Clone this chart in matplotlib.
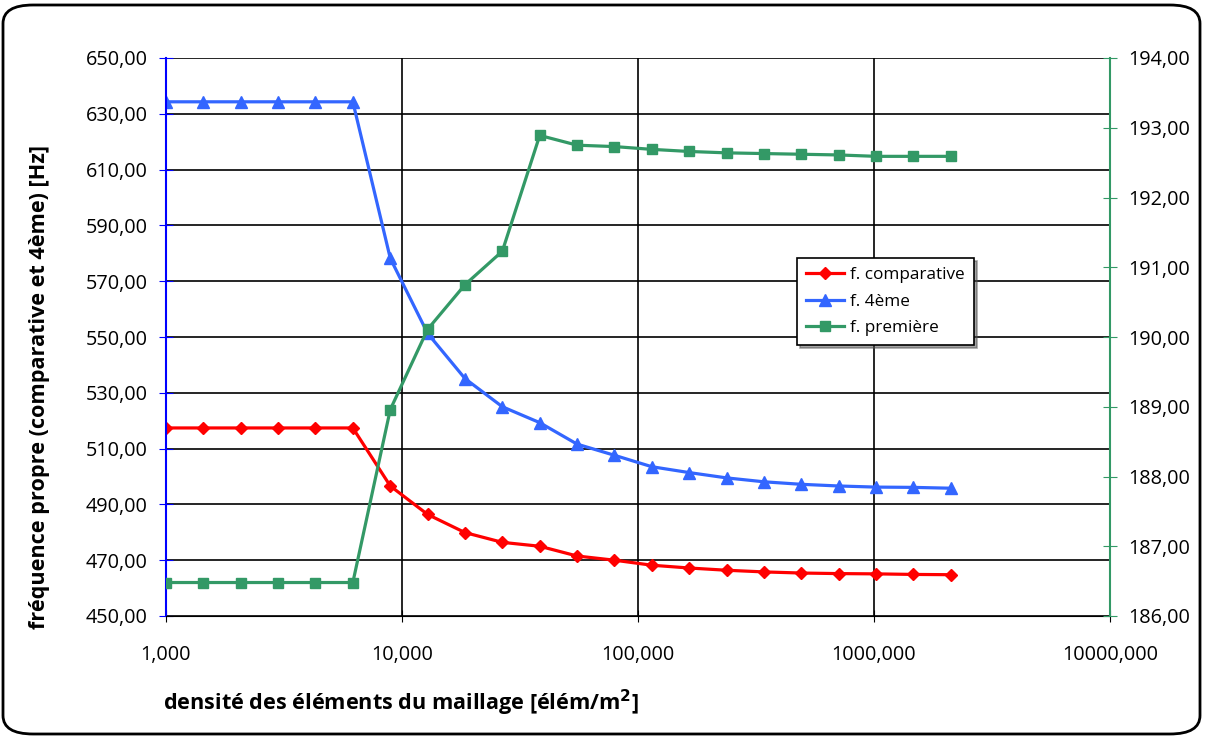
import matplotlib.pyplot as plt
from matplotlib.patches import FancyBboxPatch
from matplotlib.ticker import FuncFormatter, FixedLocator

plt.rcParams['font.family'] = ['Open Sans', 'DejaVu Sans']

# densite des elements (x, log)
densite = [1.0, 1.44, 2.07, 2.99, 4.30, 6.19, 8.92, 12.84, 18.49, 26.62, 38.34,
           55.21, 79.50, 114.5, 164.9, 237.4, 341.8, 492.2, 708.8, 1020.7, 1469.8, 2116.4]

f_comparative = [517.4, 517.4, 517.4, 517.4, 517.4, 517.4, 496.6, 486.4, 479.9, 476.4, 475.0,
                 471.5, 470.0, 468.2, 467.2, 466.4, 465.8, 465.4, 465.2, 465.1, 464.9, 464.8]
f_4eme = [634.3, 634.3, 634.3, 634.3, 634.3, 634.3, 578.2, 551.3, 535.1, 525.0, 519.3,
          511.6, 507.6, 503.5, 501.4, 499.5, 498.1, 497.2, 496.6, 496.2, 496.1, 495.8]
f_premiere = [186.48, 186.48, 186.48, 186.48, 186.48, 186.48, 188.96, 190.11, 190.75, 191.23, 192.89,
              192.75, 192.73, 192.69, 192.66, 192.64, 192.63, 192.62, 192.61, 192.59, 192.59, 192.59]

left_ticks = [450, 470, 490, 510, 530, 550, 570, 590, 610, 630, 650]
right_ticks = [186, 187, 188, 189, 190, 191, 192, 193, 194]
x_ticks = [1, 10, 100, 1000, 10000]

red = '#FF0000'
blue = '#3366FF'
green = '#339966'

fig = plt.figure(figsize=(12.05, 7.37), dpi=100)
ax = fig.add_axes([166/1205, 1-616/737, (1110-166)/1205, (616-58)/737])
ax2 = ax.twinx()

l1, = ax.plot(densite, f_comparative, color=red, lw=2.3, marker='D', ms=6.5, label='f. comparative')
l2, = ax.plot(densite, f_4eme, color=blue, lw=2.3, marker='^', ms=8, label='f. 4ème')
l3, = ax2.plot(densite, f_premiere, color=green, lw=2.3, marker='s', ms=7, label='f. première')

ax.set_xscale('log')
ax.set_xlim(1, 10000)
ax.set_ylim(450, 650)
ax2.set_ylim(186, 194)
ax.xaxis.set_major_locator(FixedLocator(x_ticks))
ax.xaxis.set_minor_locator(FixedLocator([]))
ax.set_yticks(left_ticks)
ax2.set_yticks(right_ticks)

ax.xaxis.set_major_formatter(FuncFormatter(lambda v, p: f'{v:.3f}'.replace('.', ',')))
ax.yaxis.set_major_formatter(FuncFormatter(lambda v, p: f'{v:.2f}'.replace('.', ',')))
ax2.yaxis.set_major_formatter(FuncFormatter(lambda v, p: f'{v:.2f}'.replace('.', ',')))

ax.grid(True, which='major', color='black', lw=1.2)
ax.set_axisbelow(True)

for a in (ax, ax2):
    for s in a.spines.values():
        s.set_visible(False)
ax.spines['bottom'].set_visible(True)
ax.spines['bottom'].set_color('black')
ax.spines['left'].set_visible(True)
ax.spines['left'].set_color('#0000FF')
ax.spines['left'].set_linewidth(1.5)
ax2.spines['right'].set_visible(True)
ax2.spines['right'].set_color(green)
ax2.spines['right'].set_linewidth(1.5)

ax.tick_params(axis='x', direction='inout', length=8, labelsize=14.3, pad=17, color='black')
ax.tick_params(axis='y', direction='inout', length=10, labelsize=14.3, pad=8, color='#0000FF')
ax2.tick_params(axis='y', direction='inout', length=10, labelsize=14.3, pad=8, color=green)

fig.text(40/1205, 1-387/737, 'fréquence propre (comparative et 4ème) [Hz]', rotation=90,
         fontsize=15.6, fontweight='bold', ha='center', va='center')
fig.text(401/1205, 1-703/737, 'densité des éléments du maillage [élém/m$^\\mathbf{2}$]',
         fontsize=15.6, fontweight='bold', ha='center', va='center')

leg = ax.legend(handles=[l1, l2, l3], loc='upper left',
                bbox_to_anchor=((797-166)/(1110-166), (616-258)/(616-58)),
                fontsize=12.3, frameon=True, fancybox=False, shadow=True,
                edgecolor='black', handlelength=2.2, handletextpad=0.35,
                borderpad=0.55, labelspacing=0.6, borderaxespad=0)
leg.get_frame().set_linewidth(1.2)

border = FancyBboxPatch((3/1205, 3/737), 1197/1205, 729/737,
                        boxstyle='round,pad=0,rounding_size=0.025',
                        transform=fig.transFigure, fill=False, ec='black', lw=2)
fig.patches.append(border)

fig.savefig('out.png', dpi=100)
